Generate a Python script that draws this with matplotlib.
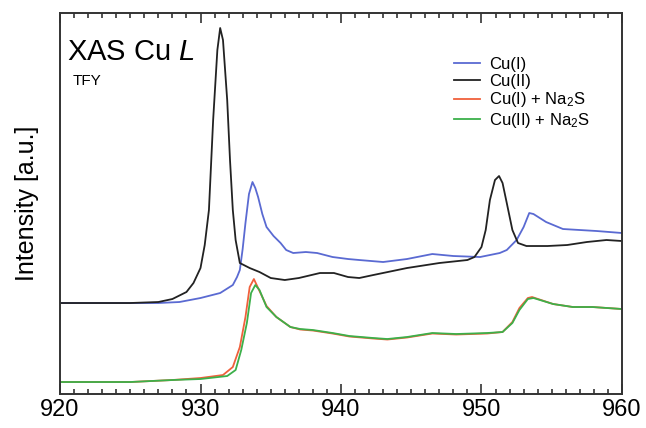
import matplotlib
matplotlib.use('Agg')
import matplotlib.pyplot as plt
from matplotlib.ticker import MultipleLocator

plt.rcParams['font.family'] = ['Liberation Sans', 'DejaVu Sans']
plt.rcParams['mathtext.fontset'] = 'custom'
plt.rcParams['mathtext.rm'] = 'Liberation Sans'
plt.rcParams['mathtext.it'] = 'Liberation Sans:italic'
plt.rcParams['mathtext.default'] = 'regular'

# photon energy (eV) / intensity (a.u.)
e_cu2 = [920, 925, 927, 928, 929, 929.5, 930, 930.3, 930.6, 930.9, 931.2, 931.4, 931.6,
         931.9, 932.1, 932.3, 932.5, 932.8, 933.5, 934.2, 935, 936, 937, 938.5, 939.5,
         940.5, 941.3, 942.3, 944.7, 947, 949, 949.5, 950, 950.3, 950.6, 950.96, 951.25,
         951.5, 951.8, 952.2, 952.6, 953.2, 954.7, 956.1, 957.5, 958.9, 960]
i_cu2 = [0.91, 0.91, 0.92, 0.95, 1.02, 1.11, 1.26, 1.49, 1.84, 2.74, 3.44, 3.66, 3.54,
         2.94, 2.34, 1.84, 1.54, 1.31, 1.26, 1.22, 1.16, 1.14, 1.16, 1.21, 1.21,
         1.17, 1.16, 1.19, 1.26, 1.31, 1.34, 1.37, 1.47, 1.64, 1.94, 2.14, 2.18,
         2.11, 1.91, 1.64, 1.51, 1.48, 1.48, 1.49, 1.52, 1.54, 1.53]

e_cu1 = [920, 925, 927, 928.5, 930, 931.4, 932.3, 932.6, 932.8, 933.0, 933.2, 933.45,
         933.7, 933.9, 934.1, 934.4, 934.7, 935.2, 935.7, 936.1, 936.6, 937.5, 938.3,
         939.4, 940.5, 941.3, 943, 944.7, 946.5, 948, 949.9, 951.3, 951.8, 952.5, 953.0,
         953.4, 953.7, 954.6, 955.8, 957, 958.2, 960]
i_cu1 = [0.91, 0.91, 0.91, 0.92, 0.96, 1.01, 1.09, 1.17, 1.24, 1.45, 1.71, 2.00,
         2.12, 2.06, 1.97, 1.80, 1.67, 1.58, 1.51, 1.44, 1.41, 1.42, 1.41,
         1.37, 1.35, 1.34, 1.32, 1.35, 1.40, 1.38, 1.37, 1.41, 1.44, 1.54, 1.67,
         1.81, 1.80, 1.72, 1.65, 1.64, 1.63, 1.61]

e_cu1_na2s = [920, 925, 928, 930, 931.6, 932.3, 932.8, 933.2, 933.5, 933.8, 934.1, 934.7,
              935.4, 936.4, 937.1, 938, 939.4, 940.6, 942.3, 943.3, 944.7, 946.5, 948.2,
              950.4, 951.5, 952.2, 952.7, 953.3, 953.6, 955.1, 956.5, 957.9, 960]
i_cu1_na2s = [0.12, 0.12, 0.14, 0.16, 0.19, 0.27, 0.47, 0.77, 1.07, 1.15, 1.06, 0.88,
              0.77, 0.67, 0.645, 0.635, 0.605, 0.575, 0.555, 0.545, 0.565, 0.605, 0.595,
              0.605, 0.62, 0.72, 0.86, 0.96, 0.97, 0.90, 0.87, 0.87, 0.85]

e_cu2_na2s = [920, 925, 928, 930, 931.9, 932.5, 932.9, 933.3, 933.6, 933.9, 934.2, 934.7,
              935.4, 936.4, 937.1, 938, 939.4, 940.6, 942.3, 943.3, 944.7, 946.5, 948.2,
              950.4, 951.5, 952.2, 952.7, 953.3, 953.7, 955.1, 956.5, 957.9, 960]
i_cu2_na2s = [0.12, 0.12, 0.14, 0.15, 0.18, 0.24, 0.44, 0.71, 1.01, 1.09, 1.04, 0.87,
              0.77, 0.67, 0.65, 0.64, 0.61, 0.58, 0.56, 0.55, 0.57, 0.61, 0.60,
              0.61, 0.62, 0.71, 0.84, 0.95, 0.96, 0.90, 0.87, 0.87, 0.85]

fig = plt.figure(figsize=(6.46, 4.28), dpi=100)
ax = fig.add_axes([0.0929, 0.0794, 0.8699, 0.8902])

ax.plot(e_cu1, i_cu1, color='#5a6ad2', lw=1.3, label='Cu(I)')
ax.plot(e_cu2, i_cu2, color='#222222', lw=1.3, label='Cu(II)')
ax.plot(e_cu1_na2s, i_cu1_na2s, color='#f0603c', lw=1.3, label='Cu(I) + Na$_2$S')
ax.plot(e_cu2_na2s, i_cu2_na2s, color='#3cb04a', lw=1.3, label='Cu(II) + Na$_2$S')

ax.set_xlim(920, 960)
ax.set_ylim(0, 3.81)
ax.set_yticks([])
ax.xaxis.set_major_locator(MultipleLocator(10))
ax.xaxis.set_minor_locator(MultipleLocator(1))
ax.tick_params(axis='x', which='major', direction='in', top=True, length=7, width=1.2,
               color='#333333', labelsize=17)
ax.tick_params(axis='x', which='minor', direction='in', top=True, length=3.5, width=1.2,
               color='#333333')
for s in ax.spines.values():
    s.set_linewidth(1.4)
    s.set_color('#333333')

ax.set_ylabel('Intensity [a.u.]', fontsize=18, labelpad=15)

ax.text(0.013, 0.935, 'XAS Cu $\\mathit{L}$', transform=ax.transAxes, fontsize=21,
        va='top', ha='left')
ax.text(0.022, 0.84, 'TFY', transform=ax.transAxes, fontsize=11, va='top', ha='left')

ax.legend(loc='upper left', bbox_to_anchor=(0.68, 0.915), frameon=False, fontsize=12,
          handlelength=1.6, handletextpad=0.5, labelspacing=0.1, borderpad=0.2)

fig.savefig('out.png', dpi=100)
